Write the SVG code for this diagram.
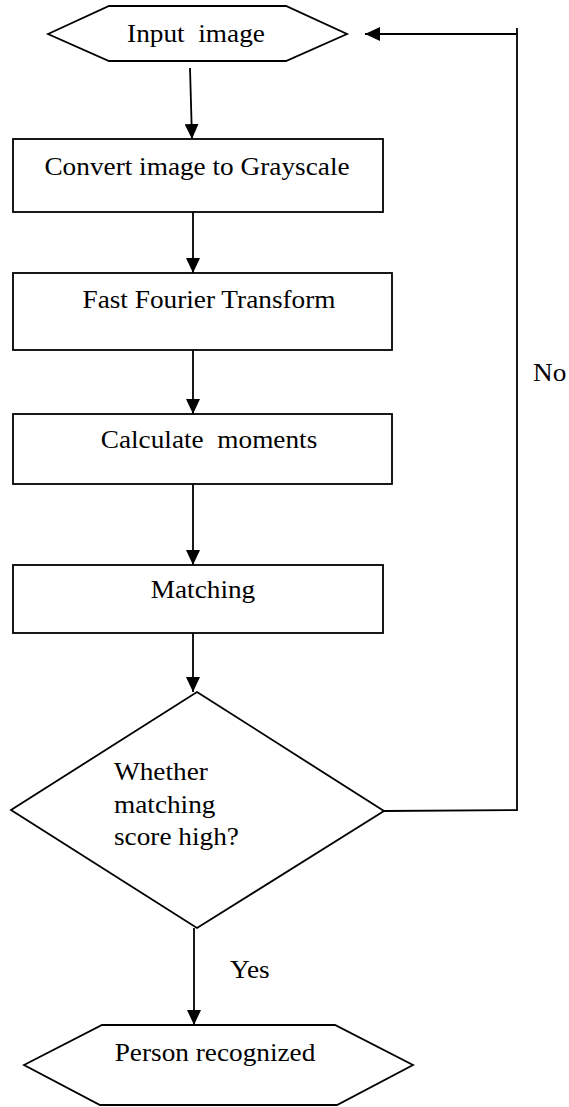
<svg xmlns="http://www.w3.org/2000/svg" width="569" height="1107" viewBox="0 0 569 1107">
<style>
.shape{fill:#fff;stroke:#000;stroke-width:1.8}
.conn{fill:none;stroke:#000;stroke-width:1.8}
text{font-family:"Liberation Serif","Times New Roman",serif;font-size:25.5px;fill:#000;white-space:pre}
.c{text-anchor:middle}
</style>
<defs>
<marker id="arr" viewBox="0 0 15 14" refX="15" refY="7" markerWidth="15" markerHeight="14" markerUnits="userSpaceOnUse" orient="auto">
<path d="M0,0 L15,7 L0,14 Z" fill="#000"/>
</marker>
</defs>
<rect width="569" height="1107" fill="#fff"/>
<g id="input">
<polygon class="shape" points="48,34 109,6 286,6 347,34 286,61 109,61"/>
<text class="c" transform="translate(196,42) scale(1.07,1)">Input  image</text>
</g>
<g id="gray">
<rect class="shape" x="13" y="139" width="370" height="73"/>
<text class="c" transform="translate(197,175) scale(1.07,1)">Convert image to Grayscale</text>
</g>
<g id="fft">
<rect class="shape" x="13" y="273" width="379" height="77"/>
<text class="c" transform="translate(209,308) scale(1.07,1)">Fast Fourier Transform</text>
</g>
<g id="moments">
<rect class="shape" x="13" y="414" width="379" height="70"/>
<text class="c" transform="translate(209,448) scale(1.07,1)">Calculate  moments</text>
</g>
<g id="matching">
<rect class="shape" x="13" y="565" width="370" height="68"/>
<text class="c" transform="translate(203,598) scale(1.07,1)">Matching</text>
</g>
<g id="decision">
<polygon class="shape" points="197,692 384,811 197,928 11,810"/>
<text transform="translate(114,780) scale(1.07,1)">Whether</text>
<text transform="translate(114,813) scale(1.07,1)">matching</text>
<text transform="translate(114,845) scale(1.07,1)">score high?</text>
</g>
<g id="output">
<polygon class="shape" points="24,1065 102,1025 335,1025 413,1065 337,1105 100,1105"/>
<text class="c" transform="translate(215,1061) scale(1.07,1)">Person recognized</text>
</g>
<g id="connectors">
<path class="conn" d="M190,68 L192,139" marker-end="url(#arr)"/>
<path class="conn" d="M193,212 L193,273" marker-end="url(#arr)"/>
<path class="conn" d="M193,350 L193,414" marker-end="url(#arr)"/>
<path class="conn" d="M193,484 L193,565" marker-end="url(#arr)"/>
<path class="conn" d="M193,633 L193,692" marker-end="url(#arr)"/>
<path class="conn" d="M194,928 L194,1025" marker-end="url(#arr)"/>
<path class="conn" d="M384,811 L517,810 M517,811 L517,28"/>
<path class="conn" d="M517,34 L365,34" marker-end="url(#arr)"/>
<text transform="translate(533,381) scale(1.07,1)">No</text>
<text transform="translate(230,978) scale(1.07,1)">Yes</text>
</g>
</svg>
